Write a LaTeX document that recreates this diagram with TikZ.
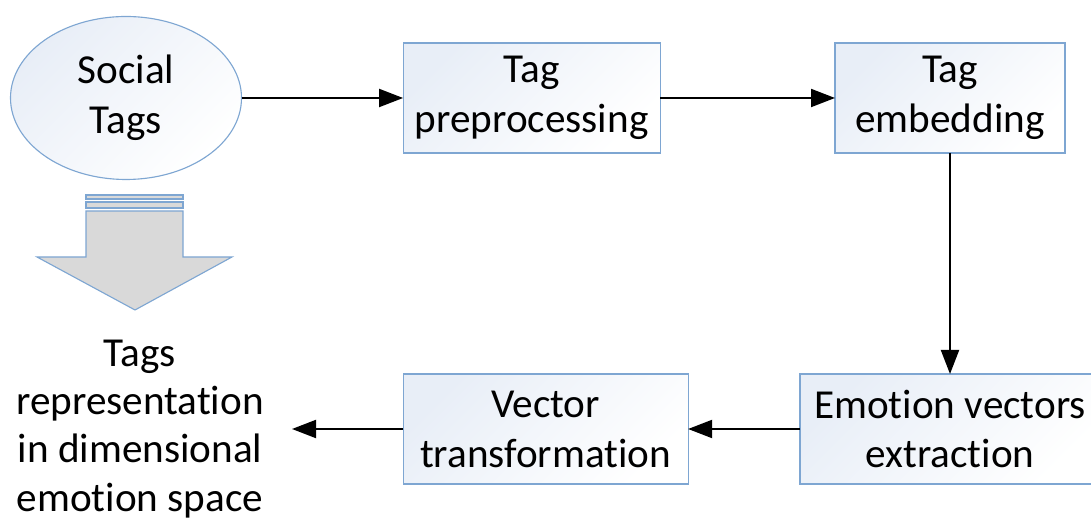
\documentclass[tikz,border=0pt]{standalone}
\usepackage{fontspec}
\setmainfont[RawFeature=-liga]{Carlito}
\usetikzlibrary{arrows.meta,shapes.geometric}

\definecolor{edgeblue}{HTML}{7EA6D2}
\definecolor{tint}{HTML}{E8EEF7}
\definecolor{arrowgray}{HTML}{D9D9D9}

\begin{document}
\begin{tikzpicture}[
      stage/.style={draw=edgeblue, line width=0.8pt, top color=tint, bottom color=white,
        shading angle=45, minimum height=2.75cm, inner sep=0pt, outer sep=0pt,
        align=center, font=\fontsize{29.3}{35.5}\selectfont},
      flow/.style={line width=1.4pt, -{Triangle[length=0.6cm,width=0.45cm]}}
    ]
      \useasboundingbox (0,0) rectangle (27.275,13);

      % source and processing stages
      \node[stage, ellipse, minimum width=5.775cm, minimum height=4.075cm] (tags) at (3.15,10.55) {Social\\Tags};
      \node[stage, minimum width=6.425cm] (prep) at (13.29,10.55) {Tag\\preprocessing};
      \node[stage, minimum width=5.75cm] (embed) at (23.75,10.55) {Tag\\embedding};
      \node[stage, minimum width=7.5cm] (extract) at (23.75,2.275) {Emotion vectors\\extraction};
      \node[stage, minimum width=7.125cm] (transform) at (13.64,2.275) {Vector\\transformation};

      \node[align=center, font=\fontsize{29.3}{34.3}\selectfont, inner sep=0pt] (space) at (3.5,2.275)
        {Tags\\representation\\in dimensional\\emotion space};
      \coordinate (out) at (7.3,2.275);

      \draw[flow] (tags) -- (prep);
      \draw[flow] (prep) -- (embed);
      \draw[flow] (embed) -- (extract);
      \draw[flow] (extract) -- (transform);
      \draw[flow] (transform) -- (out);

      % block arrow under the ellipse
      \foreach \top/\bot in {8.125/8.025, 7.95/7.8}
        \draw[draw=edgeblue, fill=arrowgray, line width=0.8pt] (2.15,\top) rectangle (4.575,\bot);
      \draw[draw=edgeblue, fill=arrowgray, line width=0.8pt]
        (2.15,7.725) -- (4.575,7.725) -- (4.575,6.575) -- (5.8,6.575) -- (3.375,5.25)
        -- (0.925,6.575) -- (2.15,6.575) -- cycle;
    \end{tikzpicture}
\end{document}
